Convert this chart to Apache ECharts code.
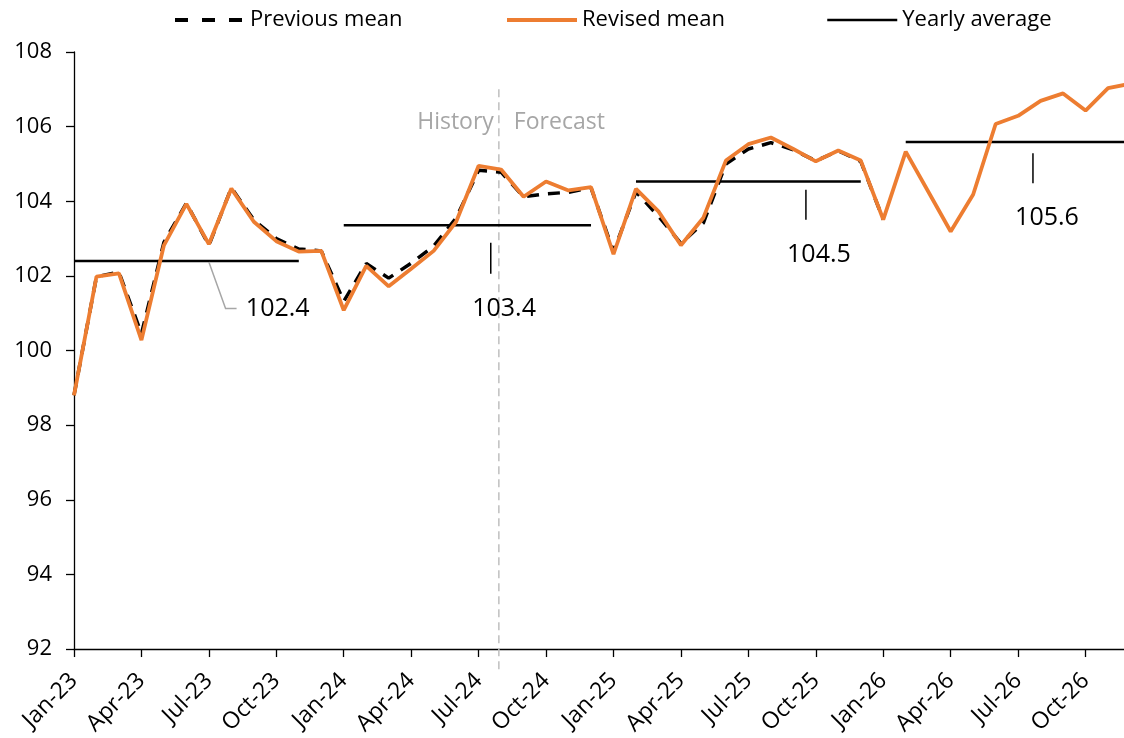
<!DOCTYPE html>
<html>
<head>
<meta charset="utf-8">
<script src="https://cdn.jsdelivr.net/npm/echarts@6/dist/echarts.min.js"></script>
<style>html,body{margin:0;padding:0;background:#fff}#c{width:1124px;height:738px}</style>
</head>
<body>
<div id="c"></div>
<script>
const months = ['Jan-23','Feb-23','Mar-23','Apr-23','May-23','Jun-23','Jul-23','Aug-23','Sep-23','Oct-23','Nov-23','Dec-23',
  'Jan-24','Feb-24','Mar-24','Apr-24','May-24','Jun-24','Jul-24','Aug-24','Sep-24','Oct-24','Nov-24','Dec-24',
  'Jan-25','Feb-25','Mar-25','Apr-25','May-25','Jun-25','Jul-25','Aug-25','Sep-25','Oct-25','Nov-25','Dec-25',
  'Jan-26','Feb-26','Mar-26','Apr-26','May-26','Jun-26','Jul-26','Aug-26','Sep-26','Oct-26','Nov-26','Dec-26'];
const tickLabels = ['Jan-23','Apr-23','Jul-23','Oct-23','Jan-24','Apr-24','Jul-24','Oct-24','Jan-25','Apr-25','Jul-25','Oct-25','Jan-26','Apr-26','Jul-26','Oct-26'];
const previousMean = [98.80,101.98,102.10,100.45,102.90,103.95,102.82,104.36,103.50,103.00,102.72,102.67,
  101.32,102.33,101.94,102.34,102.80,103.55,104.83,104.78,104.12,104.20,104.24,104.36,
  102.65,104.25,103.60,102.87,103.42,105.00,105.40,105.57,105.38,105.08,105.35,105.07,
  103.51];
const revisedMean = [98.80,101.98,102.07,100.28,102.82,103.93,102.85,104.34,103.45,102.93,102.65,102.67,
  101.08,102.27,101.72,102.19,102.67,103.45,104.95,104.85,104.12,104.53,104.29,104.38,
  102.58,104.33,103.73,102.82,103.56,105.09,105.53,105.71,105.40,105.07,105.36,105.09,
  103.51,105.33,104.26,103.19,104.18,106.07,106.29,106.69,106.89,106.43,107.03,107.15];
const yearlyAverage = [102.40,103.36,104.53,105.59];
const yearlyStart = ['Jan-23','Jan-24','Feb-25','Feb-26'];
const yearlyEnd = ['Nov-23','Dec-24','Dec-25','Dec-26'];
const splitMonth = 18.9; // History / Forecast divider (month index)

const FONT = 'Open Sans';
const ORANGE = '#ED7D31';
const idx = m => months.indexOf(m);
const tickValues = tickLabels.map(idx);

const seriesList = [
  {
    name: 'Previous mean', type: 'line', z: 3,
    data: previousMean.map((v, i) => [i, v]),
    symbol: 'none', lineStyle: { color: '#000', width: 3.5, type: [12, 9] }, itemStyle: { color: '#000' }
  },
  {
    name: 'Revised mean', type: 'line', z: 4,
    data: revisedMean.map((v, i) => [i, v]),
    symbol: 'none', lineStyle: { color: ORANGE, width: 3.8 }, itemStyle: { color: ORANGE }
  }
];
yearlyAverage.forEach((v, k) => {
  seriesList.push({
    name: 'Yearly average', type: 'line', z: 2,
    data: [[idx(yearlyStart[k]), v], [idx(yearlyEnd[k]), v]],
    symbol: 'none', lineStyle: { color: '#000', width: 2.5 }, itemStyle: { color: '#000' }
  });
});

const legendCommon = {
  top: 9, padding: 0, itemWidth: 70, itemHeight: 14,
  itemStyle: { opacity: 0 },
  textStyle: { fontFamily: FONT, fontSize: 22, color: '#000' }
};

const option = {
  animation: false,
  backgroundColor: '#fff',
  grid: { left: 74, right: 0, top: 52, bottom: 86, containLabel: false },
  legend: [
    Object.assign({ data: ['Previous mean'], left: 173, lineStyle: { width: 4, type: [13, 14], color: '#000' } }, legendCommon),
    Object.assign({ data: ['Revised mean'], left: 505, lineStyle: { width: 4, color: ORANGE } }, legendCommon),
    Object.assign({ data: ['Yearly average'], left: 826, lineStyle: { width: 2.5, color: '#000' } }, legendCommon)
  ],
  xAxis: {
    type: 'value', min: 0, max: 46.71, interval: 3,
    splitLine: { show: false },
    axisLine: { show: true, lineStyle: { color: '#000', width: 1.3 } },
    axisTick: { show: true, length: 8, customValues: tickValues, lineStyle: { color: '#000', width: 1.3 } },
    axisLabel: {
      customValues: tickValues,
      formatter: v => months[Math.round(v)] || '',
      rotate: 45, margin: 28, fontFamily: FONT, fontSize: 23, color: '#000'
    }
  },
  yAxis: {
    type: 'value', min: 92, max: 108, interval: 2,
    splitLine: { show: false },
    axisLine: { show: true, lineStyle: { color: '#000', width: 1.3 } },
    axisTick: { show: true, length: 8, lineStyle: { color: '#000', width: 1.3 } },
    axisLabel: { margin: 22, fontFamily: FONT, fontSize: 22, color: '#000' }
  },
  series: seriesList
};

const chart = echarts.init(document.getElementById('c'), null, { renderer: 'canvas' });
chart.setOption(option);

// annotations placed through the chart's own scales
const toPx = (x, y) => chart.convertToPixel({ gridIndex: 0 }, [x, y]);
const annot = [
  { x: 6,     leader: [[0, 1], [16.7, 47.6], [27.7, 47.6]], color: '#A6A6A6', tx: 37, ty: 48.3, align: 'left' },
  { x: 18.54, leader: [[0, 17.6], [0, 48.6]], color: '#000', tx: 13.3, ty: 83.3, align: 'center' },
  { x: 32.56, leader: [[0, 8.2], [0, 38.2]], color: '#000', tx: 13, ty: 73.2, align: 'center' },
  { x: 42.66, leader: [[0, 11.2], [0, 41.2]], color: '#000', tx: 14, ty: 75.9, align: 'center' }
];
const graphicList = [];
annot.forEach((a, k) => {
  const p = toPx(a.x, yearlyAverage[k]);
  graphicList.push({
    type: 'polyline', silent: true, z: 10,
    shape: { points: a.leader.map(q => [p[0] + q[0], p[1] + q[1]]) },
    style: { stroke: a.color, lineWidth: 1.5, fill: null }
  });
  graphicList.push({
    type: 'text', silent: true, z: 10,
    x: p[0] + a.tx, y: p[1] + a.ty,
    style: { text: yearlyAverage[k].toFixed(1), fill: '#000', font: '25px "' + FONT + '"', align: a.align, verticalAlign: 'middle' }
  });
});
const divTop = toPx(splitMonth, 107);
const divBot = toPx(splitMonth, 92);
graphicList.push({
  type: 'line', silent: true, z: 1,
  shape: { x1: divTop[0], y1: divTop[1], x2: divBot[0], y2: divBot[1] + 24 },
  style: { stroke: '#BFBFBF', lineWidth: 1.5, lineDash: [8, 5] }
});
const textY = toPx(splitMonth, 106.1)[1];
graphicList.push({
  type: 'text', silent: true, x: divTop[0] - 5, y: textY,
  style: { text: 'History', fill: '#A6A6A6', font: '23px "' + FONT + '"', align: 'right', verticalAlign: 'middle' }
});
graphicList.push({
  type: 'text', silent: true, x: divTop[0] + 15, y: textY,
  style: { text: 'Forecast', fill: '#A6A6A6', font: '23px "' + FONT + '"', align: 'left', verticalAlign: 'middle' }
});
chart.setOption({ graphic: graphicList });
</script>
</body>
</html>
